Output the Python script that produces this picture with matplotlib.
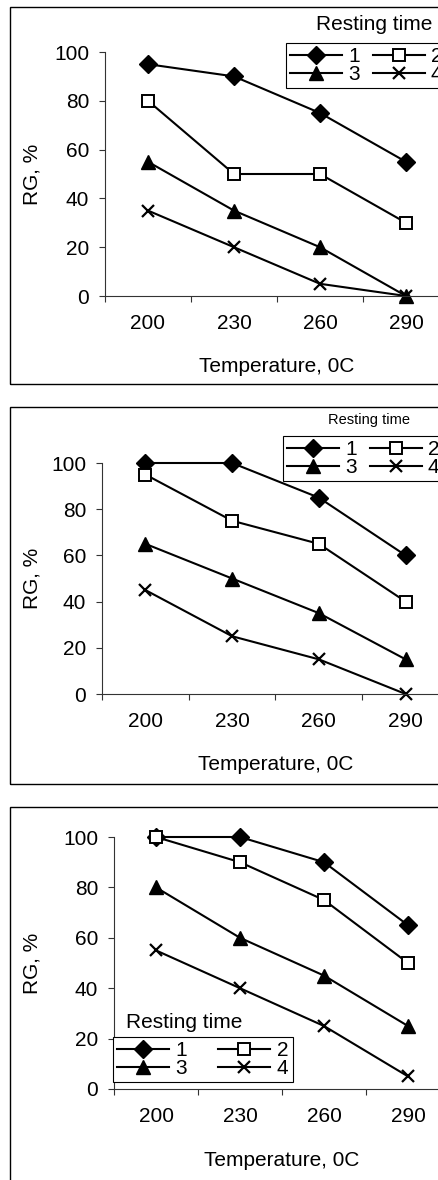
import matplotlib
matplotlib.use("Agg")
import matplotlib.pyplot as plt
from matplotlib.patches import Rectangle

plt.rcParams['font.family'] = ['Liberation Sans', 'DejaVu Sans']

# ---------------- data ----------------
temperatures = ["200", "230", "260", "290"]
series_labels = ["1", "2", "3", "4"]

p1_s1 = [95, 90, 75, 55]
p1_s2 = [80, 50, 50, 30]
p1_s3 = [55, 35, 20, 0]
p1_s4 = [35, 20, 5, 0]

p2_s1 = [100, 100, 85, 60]
p2_s2 = [95, 75, 65, 40]
p2_s3 = [65, 50, 35, 15]
p2_s4 = [45, 25, 15, 0]

p3_s1 = [100, 100, 90, 65]
p3_s2 = [100, 90, 75, 50]
p3_s3 = [80, 60, 45, 25]
p3_s4 = [55, 40, 25, 5]

y_ticks = [0, 20, 40, 60, 80, 100]
x_label = "Temperature, 0C"
y_label = "RG, %"
legend_title = "Resting time"

# ---------------- layout (pixels) ----------------
W, H = 439, 1180
fig = plt.figure(figsize=(W / 100, H / 100), dpi=100)

def frac_rect(l, r, t, b):
    return [l / W, 1 - b / H, (r - l) / W, (b - t) / H]

marker_styles = [
    dict(marker='D', ms=9, mfc='black', mec='black'),
    dict(marker='s', ms=8.5, mfc='white', mec='black', mew=1.4),
    dict(marker='^', ms=10.5, mfc='black', mec='black'),
    dict(marker='x', ms=9, mfc='black', mec='black', mew=1.6),
]

panels = [
    dict(data=[p1_s1, p1_s2, p1_s3, p1_s4], border=(10, 7, 384),
         ax=(105, 449, 52, 296), leg=(286, 43), title=(316, 25, 15), colsp=0.6),
    dict(data=[p2_s1, p2_s2, p2_s3, p2_s4], border=(10, 407, 784),
         ax=(102, 449, 463, 694), leg=(283, 436), title=(328, 420, 10.5), colsp=0.6),
    dict(data=[p3_s1, p3_s2, p3_s3, p3_s4], border=(10, 807, 1184),
         ax=(114, 450, 837, 1089), leg=(113, 1037), title=(126, 1023, 15), colsp=1.5),
]

FS = 15
for p in panels:
    bl, bt, bb = p['border']
    fig.patches.append(Rectangle((bl / W, 1 - bb / H), (470 - bl) / W, (bb - bt) / H,
                                 transform=fig.transFigure, fill=False,
                                 edgecolor='black', linewidth=1.0, clip_on=False))
    l, r, t, b = p['ax']
    ax = fig.add_axes(frac_rect(l, r, t, b))
    ax.set_facecolor('none')
    xs = list(range(len(temperatures)))
    handles = []
    for vals, lab, st in zip(p['data'], series_labels, marker_styles):
        h, = ax.plot(xs, vals, color='black', lw=1.5, label=lab, clip_on=False, **st)
        handles.append(h)
    ax.set_xlim(-0.5, len(temperatures) - 0.5)
    ax.set_ylim(0, 100)
    for s in ['top', 'right']:
        ax.spines[s].set_visible(False)
    for s in ['left', 'bottom']:
        ax.spines[s].set_linewidth(0.8)
        ax.spines[s].set_color('#333333')
    ax.set_yticks(y_ticks)
    ax.tick_params(axis='y', direction='out', length=4.3, width=0.8, pad=7,
                   labelsize=FS, color='#333333')
    ax.set_xticks([i - 0.5 for i in range(len(temperatures) + 1)])
    ax.set_xticklabels([])
    ax.set_xticks(xs, minor=True)
    ax.set_xticklabels(temperatures, minor=True)
    ax.tick_params(axis='x', which='major', direction='out', length=4.3, width=0.8,
                   color='#333333')
    ax.tick_params(axis='x', which='minor', length=0, pad=13, labelsize=FS)
    axw, axh = r - l, b - t
    ax.set_xlabel(x_label, fontsize=FS)
    ax.xaxis.set_label_coords(0.5, -71 / axh)
    ax.xaxis.label.set_va('center')
    ax.set_ylabel(y_label, fontsize=FS)
    ax.yaxis.set_label_coords((32 - l) / axw, 0.5)
    ax.yaxis.label.set_va('center')

    tx, ty, tfs = p['title']
    fig.text(tx / W, 1 - ty / H, legend_title, fontsize=tfs, ha='left', va='center')

    lx, ly = p['leg']
    # row-wise order: 1 2 / 3 4
    order = [0, 2, 1, 3]
    leg = ax.legend(handles=[handles[i] for i in order], ncol=2, loc='upper left',
                    bbox_to_anchor=(lx / W, 1 - ly / H), bbox_transform=fig.transFigure,
                    fontsize=FS, handlelength=2.5, handletextpad=0.3,
                    columnspacing=p['colsp'], labelspacing=-0.05, borderpad=0.2,
                    borderaxespad=0, fancybox=False, framealpha=1,
                    edgecolor='black')
    leg.get_frame().set_linewidth(0.8)

fig.savefig("out.png", dpi=100)
